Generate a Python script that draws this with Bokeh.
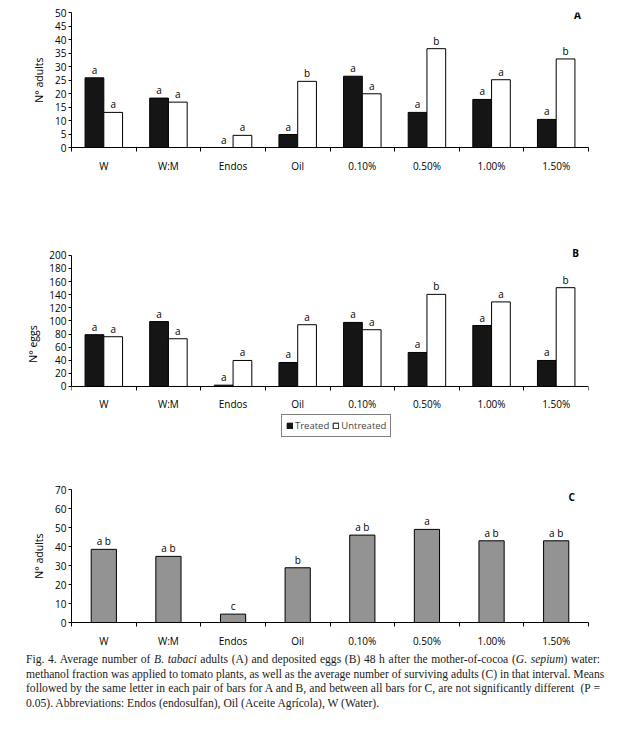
from bokeh.plotting import figure
from bokeh.models import (FixedTicker, SingleIntervalTicker, Label, Legend, LegendItem,
                          Div, Range1d, ColumnDataSource)
from bokeh.transform import dodge
from bokeh.layouts import column
from bokeh.embed import file_html
from bokeh.resources import INLINE
from bokeh.core.properties import value

categories = ["W", "W:M", "Endos", "Oil", "0.10%", "0.50%", "1.00%", "1.50%"]

adults_treated = [25.8, 18.3, 0, 4.8, 26.4, 13.0, 17.8, 10.4]
adults_untreated = [13.0, 16.8, 4.5, 24.5, 19.9, 36.6, 25.1, 32.8]
adults_treated_letters = ["a", "a", "a", "a", "a", "a", "a", "a"]
adults_untreated_letters = ["a", "a", "a", "b", "a", "b", "a", "b"]

eggs_treated = [79, 99, 2, 36.6, 97.7, 51.9, 93, 39.7]
eggs_untreated = [75.9, 72.8, 39.7, 94.2, 86.6, 140.5, 129, 150.7]
eggs_treated_letters = ["a", "a", "a", "a", "a", "a", "a", "a"]
eggs_untreated_letters = ["a", "a", "a", "a", "a", "b", "a", "b"]

surviving = [38.5, 34.8, 4.4, 28.8, 46.0, 49.0, 43.0, 43.0]
surviving_letters = ["a b", "a b", "c", "b", "a b", "a", "a b", "a b"]

FONT = "Open Sans"
positions = [i + 1 for i in range(len(categories))]
boundaries = [i + 0.5 for i in range(len(categories) + 1)]


def base_fig(height, ymin, ymax, yend, yint, ylabel, bl, br, bt, bb):
    p = figure(width=617, height=height, x_range=Range1d(0.5, len(categories) + 0.5),
               y_range=Range1d(ymin, yend), output_backend="svg", toolbar_location=None,
               min_border_left=bl, min_border_right=br, min_border_top=bt,
               min_border_bottom=bb)
    p.outline_line_color = None
    p.xgrid.visible = False
    p.ygrid.visible = False
    p.background_fill_color = "white"
    p.border_fill_color = "white"
    xa = p.xaxis[0]
    xa.ticker = FixedTicker(ticks=positions, minor_ticks=boundaries)
    xa.major_label_overrides = {pos: c for pos, c in zip(positions, categories)}
    xa.major_tick_out = 0
    xa.major_tick_in = 0
    xa.minor_tick_out = 4
    xa.minor_tick_in = 0
    xa.major_label_standoff = 7
    xa.major_label_text_font = FONT
    xa.major_label_text_font_size = "10px"
    xa.major_label_text_color = "black"
    xa.axis_line_color = "black"
    ya = p.yaxis[0]
    ya.bounds = (0, ymax)
    ya.ticker = SingleIntervalTicker(interval=yint, num_minor_ticks=0)
    ya.major_tick_out = 3
    ya.major_tick_in = 0
    ya.minor_tick_line_color = None
    ya.major_label_text_font = FONT
    ya.major_label_text_font_size = "10px"
    ya.major_label_text_color = "black"
    ya.major_label_standoff = 2
    ya.axis_line_color = "black"
    ya.axis_label = ylabel
    ya.axis_label_text_font = FONT
    ya.axis_label_text_font_size = "10.5px"
    ya.axis_label_text_font_style = "normal"
    ya.axis_label_text_color = "black"
    ya.axis_label_standoff = 6
    return p


def paired(p, treated, untreated, tl, ul, width=0.29):
    src = ColumnDataSource(dict(x=positions, t=treated, u=untreated, tl=tl, ul=ul))
    rt = p.vbar(x=dodge("x", -width / 2, range=p.x_range), top="t", width=width,
                source=src, fill_color="#151515", line_color="black", line_width=1)
    ru = p.vbar(x=dodge("x", width / 2, range=p.x_range), top="u", width=width,
                source=src, fill_color="white", line_color="black", line_width=1)
    p.text(x=dodge("x", -width / 2, range=p.x_range), y="t", text="tl", source=src,
           text_align="center", text_baseline="bottom", y_offset=-1,
           text_font=value(FONT), text_font_size="10px", text_color="black")
    p.text(x=dodge("x", width / 2, range=p.x_range), y="u", text="ul", source=src,
           text_align="center", text_baseline="bottom", y_offset=-1,
           text_font=value(FONT), text_font_size="10px", text_color="black")
    return rt, ru


def panel_label(p, txt, x, y):
    p.add_layout(Label(x=x, y=y, text=txt, text_font=FONT, text_font_size="10px",
                       text_font_style="bold", text_align="center",
                       text_baseline="middle", text_color="black"))


# Panel A  (page y 0..240, frame 12..147)
pA = base_fig(240, 0, 50, 50, 5, "N° adults", 69, 25, 12, 93)
paired(pA, adults_treated, adults_untreated, adults_treated_letters, adults_untreated_letters)
panel_label(pA, "A", 8.33, 49.0)

# Panel B  (page y 240..470; axis 0 at 386, 200 at 255; frame 247..440)
pB = base_fig(230, -82.4, 200, 212, 20, "N° eggs", 69, 25, 7, 30)
pB.xaxis[0].fixed_location = 0
rt, ru = paired(pB, eggs_treated, eggs_untreated, eggs_treated_letters, eggs_untreated_letters)
panel_label(pB, "B", 8.3, 203)
legend = Legend(items=[LegendItem(label="Treated", renderers=[rt]),
                       LegendItem(label="Untreated", renderers=[ru])],
                location=(210, 3), orientation="horizontal",
                glyph_width=7, glyph_height=7, label_text_font=FONT,
                label_text_font_size="9.5px", label_standoff=2, spacing=3,
                padding=4, margin=0, border_line_color="black",
                border_line_width=1, label_height=10)
pB.add_layout(legend)

# Panel C  (page y 470..650, frame 489..627)
pC = base_fig(180, 0, 70, 70, 10, "N° adults", 71, 29, 19, 23)
srcC = ColumnDataSource(dict(x=positions, v=surviving, l=surviving_letters))
pC.vbar(x="x", top="v", width=0.39, source=srcC, fill_color="#939393",
        line_color="black", line_width=1)
pC.text(x="x", y="v", text="l", source=srcC, text_align="center",
        text_baseline="bottom", y_offset=-1, text_font=value(FONT),
        text_font_size="10px", text_color="black")
panel_label(pC, "C", 8.24, 65.9)

caption = Div(width=617, height=75, margin=(0, 0, 0, 0), text=(
    '<div style="margin-left:26px;width:574px;font-family:\'Liberation Serif\';'
    'font-size:11.6px;line-height:14.5px;color:#1a1a1a;margin-top:3px">'
    '<div style="text-align:justify;text-align-last:justify;white-space:nowrap">Fig. 4. Average number of <i>B. tabaci</i> adults (A) and deposited eggs (B) 48 h after the mother-of-cocoa (<i>G. sepium</i>) water:</div>'
    '<div style="text-align:justify;text-align-last:justify;white-space:nowrap">methanol fraction was applied to tomato plants, as well as the average number of surviving adults (C) in that interval. Means</div>'
    '<div style="text-align:justify;text-align-last:justify;white-space:nowrap">followed by the same letter in each pair of bars for A and B, and between all bars for C, are not significantly different&nbsp; (P =</div>'
    '<div>0.05). Abbreviations: Endos (endosulfan), Oil (Aceite Agrícola), W (Water).</div>'
    '</div>'))

layout = column(pA, pB, pC, caption, spacing=0)
open("out.html", "w").write(file_html(layout, INLINE))
